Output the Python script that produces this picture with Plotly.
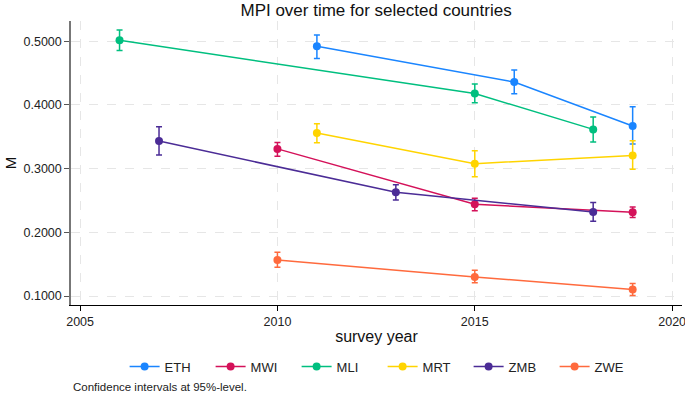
import plotly.graph_objects as go

countries = ["ETH", "MWI", "MLI", "MRT", "ZMB", "ZWE"]
colors = ["#1a85ff", "#d41159", "#00bf7f", "#ffd400", "#4b2c96", "#ff6a3d"]

years = {
    "ETH": [2011, 2016, 2019],
    "MWI": [2010, 2015, 2019],
    "MLI": [2006, 2015, 2018],
    "MRT": [2011, 2015, 2019],
    "ZMB": [2007, 2013, 2018],
    "ZWE": [2010, 2015, 2019],
}
mpi = {
    "ETH": [0.492, 0.436, 0.367],
    "MWI": [0.331, 0.244, 0.2315],
    "MLI": [0.5016, 0.418, 0.3616],
    "MRT": [0.3558, 0.3077, 0.3208],
    "ZMB": [0.3433, 0.2628, 0.232],
    "ZWE": [0.1567, 0.130, 0.1102],
}
ci_low = {
    "ETH": [0.473, 0.4174, 0.3386],
    "MWI": [0.3193, 0.234, 0.2232],
    "MLI": [0.4854, 0.4033, 0.342],
    "MRT": [0.3406, 0.2873, 0.2989],
    "ZMB": [0.3213, 0.2508, 0.2175],
    "ZWE": [0.1453, 0.1207, 0.1009],
}
ci_high = {
    "ETH": [0.510, 0.455, 0.397],
    "MWI": [0.3412, 0.2534, 0.2398],
    "MLI": [0.5177, 0.433, 0.381],
    "MRT": [0.3704, 0.328, 0.3437],
    "ZMB": [0.3657, 0.2748, 0.2467],
    "ZWE": [0.1688, 0.1406, 0.1196],
}

fig = go.Figure()
for c, col in zip(countries, colors):
    y = mpi[c]
    fig.add_trace(go.Scatter(
        x=years[c], y=y, name=c, mode="lines+markers",
        line=dict(color=col, width=1.5),
        marker=dict(color=col, size=8),
        error_y=dict(
            type="data", symmetric=False,
            array=[h - v for h, v in zip(ci_high[c], y)],
            arrayminus=[v - l for v, l in zip(y, ci_low[c])],
            color=col, thickness=1.5, width=3,
        ),
    ))

font_family = "Liberation Sans, Arial, sans-serif"
fig.update_layout(
    width=685, height=395,
    paper_bgcolor="white", plot_bgcolor="white",
    margin=dict(l=71, r=3, t=21, b=90, autoexpand=False),
    font=dict(family=font_family, size=12, color="#222"),
    title=dict(text="MPI over time for selected countries", x=0.549, xanchor="center",
               y=0.99, yanchor="top", font=dict(size=17, color="#111")),
    showlegend=True,
    legend=dict(orientation="h", x=0.51, xanchor="center", y=-0.164, yanchor="top",
                font=dict(size=13, color="#222"), entrywidth=41, entrywidthmode="pixels",
                itemwidth=30),
    xaxis=dict(
        range=[2004.77, 2020.25], tickvals=[2005, 2010, 2015, 2020],
        showgrid=True, gridcolor="#e6e6e6", griddash="dash", gridwidth=1,
        showline=True, linecolor="black", linewidth=1.2,
        ticks="outside", ticklen=5, tickcolor="black",
        zeroline=False, automargin=False, ticklabeloverflow="allow",
        title=dict(text="survey year", font=dict(size=16, color="#111"), standoff=2),
        tickfont=dict(size=12.5, color="#222"),
    ),
    yaxis=dict(
        range=[0.0859, 0.5318], tickvals=[0.1, 0.2, 0.3, 0.4, 0.5], tickformat=".4f",
        showgrid=True, gridcolor="#e6e6e6", griddash="dash", gridwidth=1,
        showline=True, linecolor="#777", linewidth=1.5,
        ticks="outside", ticklen=5, tickcolor="#555",
        zeroline=False, automargin=False,
        title=dict(text="M", font=dict(size=15, color="#111"), standoff=3),
        tickfont=dict(size=12.5, color="#222"),
    ),
    annotations=[dict(text="Confidence intervals at 95%-level.", xref="paper", yref="paper",
                      x=0.0, y=-0.29, xanchor="left", yanchor="middle", showarrow=False,
                      font=dict(size=11.5, color="#222"))],
)

fig.write_html("out.html", config={"displayModeBar": False},
               post_script="document.body.style.margin='0';document.body.style.overflow='hidden';")
